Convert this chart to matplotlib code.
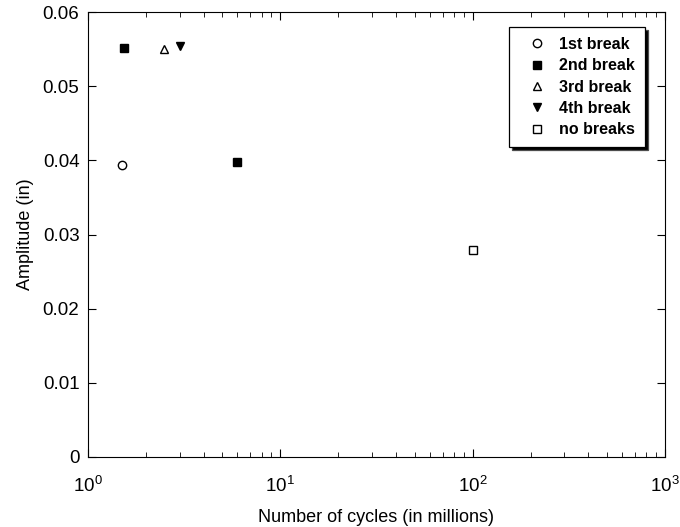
import matplotlib.pyplot as plt
import numpy as np

plt.rcParams['font.family'] = ['Liberation Sans', 'DejaVu Sans']

labels = ['1st break', '2nd break', '3rd break', '4th break', 'no breaks']
markers = ['o', 's', '^', 'v', 's']
filled = [False, True, False, True, False]
cycles = [[1.5], [1.55, 6.0], [2.5], [3.0], [100.0]]
amplitude = [[0.0394], [0.0551, 0.0398], [0.0550], [0.0554], [0.0279]]

fig = plt.figure(figsize=(6.8, 5.27), dpi=100)
ax = fig.add_axes([0.129, 0.133, 0.849, 0.844])

for lab, m, f, xs, ys in zip(labels, markers, filled, cycles, amplitude):
    ax.plot(xs, ys, linestyle='none', marker=m, markersize=6,
            markerfacecolor='black' if f else 'white',
            markeredgecolor='black', markeredgewidth=1.0, label=lab)

ax.set_xscale('log')
ax.set_xlim(1, 1000)
ax.set_ylim(0, 0.06)
ax.set_yticks([0, 0.01, 0.02, 0.03, 0.04, 0.05, 0.06])
ax.set_yticklabels(['0', '0.01', '0.02', '0.03', '0.04', '0.05', '0.06'])
ax.tick_params(which='both', direction='in', top=True, right=True, labelsize=13.5)
ax.tick_params(axis='x', which='major', pad=14)
ax.tick_params(axis='y', which='major', pad=6)
ax.tick_params(which='major', length=6)
ax.tick_params(which='minor', length=3.5)
ax.set_xlabel('Number of cycles (in millions)', fontsize=13, labelpad=9)
ax.set_ylabel('Amplitude (in)', fontsize=13, labelpad=6)

leg = ax.legend(loc='upper right', bbox_to_anchor=(0.965, 0.966),
                frameon=True, fancybox=False,
                shadow={'facecolor': 'black', 'alpha': 1.0},
                edgecolor='black', framealpha=1, borderaxespad=0,
                prop={'weight': 'bold', 'size': 11.5}, handletextpad=0.23,
                borderpad=0.6, labelspacing=0.4, handlelength=2.3)
leg.get_frame().set_linewidth(0.9)

fig.savefig('out.png', dpi=100)
